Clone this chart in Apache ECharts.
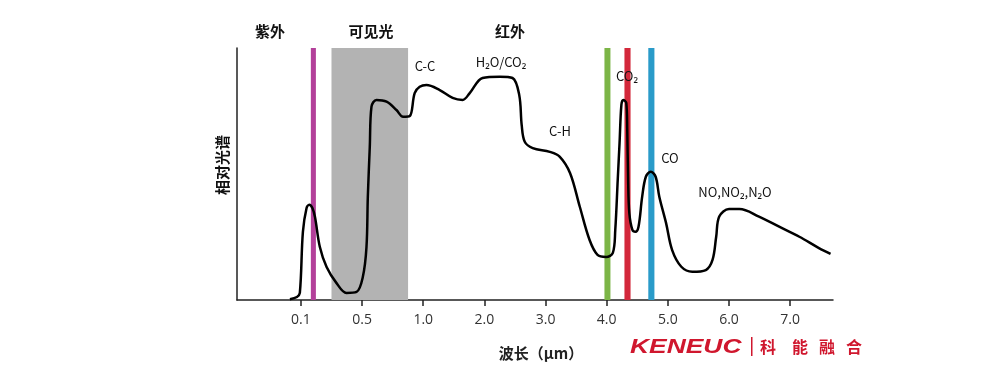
<!DOCTYPE html>
<html><head><meta charset="utf-8">
<script src="https://cdn.jsdelivr.net/npm/echarts@6/dist/echarts.min.js"></script>
<style>html,body{margin:0;padding:0;background:#fff}#c{width:1000px;height:384px}</style>
</head><body><div id="c"></div>
<script>
// x tick values (µm) – drawn evenly spaced on the axis
const tickValues = [0.1, 0.5, 1, 2, 3, 4, 5, 6, 7];
const tickLabels = ['0.1', '0.5', '1.0', '2.0', '3.0', '4.0', '5.0', '6.0', '7.0'];

// spectrum curve (wavelength in µm, relative intensity 0-100)
const curveX = [0.028,0.074,0.093,0.113,0.137,0.155,0.175,0.192,0.224,0.268,0.333,0.398,0.464,0.506,0.536,0.547,0.563,0.577,0.618,0.700,0.781,0.835,0.890,0.930,0.971,1.052,1.27,1.48,1.645,1.76,1.97,2.25,2.46,2.57,2.61,2.66,2.79,3.07,3.23,3.40,3.56,3.72,3.85,3.99,4.10,4.14,4.18,4.21,4.24,4.27,4.32,4.336,4.35,4.37,4.42,4.47,4.52,4.58,4.64,4.72,4.80,4.86,4.97,5.07,5.22,5.40,5.62,5.73,5.79,5.84,6.00,6.17,6.49,6.82,7.15,7.47,7.66];
const curveY = [0.3,1.2,2.8,27,36.5,37.8,36.5,32.9,21,13.1,6.7,2.8,3.2,9.1,21,40.9,60.7,76.7,79.4,78.7,75.4,72.7,73,82.1,84.6,85.3,83.3,80.2,79.4,82.1,88.1,88.6,88.1,81.3,69.4,62.8,60.3,58.8,56.9,50.4,37,23.8,17.9,17.1,18.7,27.8,47.6,62.3,77.4,79.4,78.2,67.5,47.6,34.5,27.8,27.1,29.1,41,48.9,50.9,48.9,41,30.6,19.8,13.2,11.2,11.9,15.9,25.1,33.1,36.1,36.1,33.1,29.1,25.1,20.6,18.3];

// highlighted wavelength bands (µm)
const bandStart = [0.165, 0.30, 3.963, 4.29, 4.68];
const bandEnd   = [0.198, 0.876, 4.061, 4.39, 4.78];
const bandColors = ['#b3409a', '#b3b3b3', '#7cb547', '#d3283b', '#2a9bc9'];

// text
const regionLabels = ['紫外', '可见光', '红外'];
const peakLabels = ['C-C', 'H₂O/CO₂', 'C-H', 'CO₂', 'CO', 'NO,NO₂,N₂O'];
const yTitle = '相对光谱';
const xTitle = '波长（μm）';

function toAxis(um) {
  const t = tickValues;
  if (um <= t[1]) return (um - t[0]) / (t[1] - t[0]);
  for (let i = 1; i < t.length - 1; i++) {
    if (um <= t[i + 1]) return i + (um - t[i]) / (t[i + 1] - t[i]);
  }
  return (t.length - 1) + (um - t[t.length - 1]) / (t[t.length - 1] - t[t.length - 2]);
}

const lineData = curveX.map((x, i) => [toAxis(x), curveY[i]]);
const areas = bandStart.map((s, i) => [
  { xAxis: toAxis(s), yAxis: 0, itemStyle: { color: bandColors[i], opacity: 1 } },
  { xAxis: toAxis(bandEnd[i]), yAxis: 100 }
]);
const tickPos = tickValues.map((v, i) => i);

const chart = echarts.init(document.getElementById('c'));
const font = '"Noto Sans CJK SC", "Noto Sans", sans-serif';
const txt = (x, y, s, size, weight, color) => ({
  type: 'text', x: x, y: y, z: 100,
  style: { text: s, fontSize: size, fontWeight: weight || 'normal', fill: color || '#111', fontFamily: font, align: 'center', verticalAlign: 'middle' }
});

chart.setOption({
  animation: false,
  grid: { left: 237, right: 167, top: 48, bottom: 84 },
  xAxis: {
    type: 'value', min: -1.045, max: 8.7,
    axisLine: { show: true, onZero: false, lineStyle: { color: '#222', width: 1.5 } },
    axisTick: { show: true, customValues: tickPos, length: 6, lineStyle: { color: '#222', width: 1.5 } },
    axisLabel: { show: true, customValues: tickPos, margin: 13, fontSize: 14, color: '#333', fontFamily: 'Open Sans, sans-serif',
      formatter: v => tickLabels[Math.round(v)] },
    splitLine: { show: false }
  },
  yAxis: {
    type: 'value', min: 0, max: 100,
    axisLine: { show: true, onZero: false, lineStyle: { color: '#222', width: 1.5 } },
    axisTick: { show: false }, axisLabel: { show: false }, splitLine: { show: false }
  },
  series: [{
    type: 'line', data: lineData, smooth: 0.35, showSymbol: false, symbol: 'none',
    lineStyle: { color: '#000', width: 2.5 }, z: 5,
    markArea: { silent: true, data: areas }
  }],
  graphic: [
    txt(270, 31, regionLabels[0], 15, 'bold'),
    txt(371, 31, regionLabels[1], 15, 'bold'),
    txt(510, 31, regionLabels[2], 15, 'bold'),
    txt(425, 66, peakLabels[0], 13),
    txt(501, 62, peakLabels[1], 13),
    txt(560, 131, peakLabels[2], 13),
    txt(627, 76, peakLabels[3], 13),
    txt(670, 158, peakLabels[4], 13),
    txt(735, 192, peakLabels[5], 13),
    { type: 'text', x: 222, y: 165, rotation: Math.PI / 2, z: 100,
      style: { text: yTitle, fontSize: 15, fontWeight: 'bold', fill: '#111', fontFamily: font, align: 'center', verticalAlign: 'middle' } },
    txt(541, 353, xTitle, 15, 'bold', '#222'),
    { type: 'text', x: 630, y: 347, scaleX: 1.32, skewX: 0, z: 100,
      style: { text: 'KENEUC', fontSize: 20, fontWeight: 900, fontStyle: 'italic', fill: '#d0172e', fontFamily: 'Liberation Sans, sans-serif', align: 'left', verticalAlign: 'middle' } },
    { type: 'rect', z: 100, shape: { x: 751, y: 337, width: 1.5, height: 19 }, style: { fill: '#d0172e' } },
    txt(768, 347, '科', 16, 'bold', '#d0172e'),
    txt(800, 347, '能', 16, 'bold', '#d0172e'),
    txt(827, 347, '融', 16, 'bold', '#d0172e'),
    txt(854, 347, '合', 16, 'bold', '#d0172e')
  ]
});
</script>
</body></html>
